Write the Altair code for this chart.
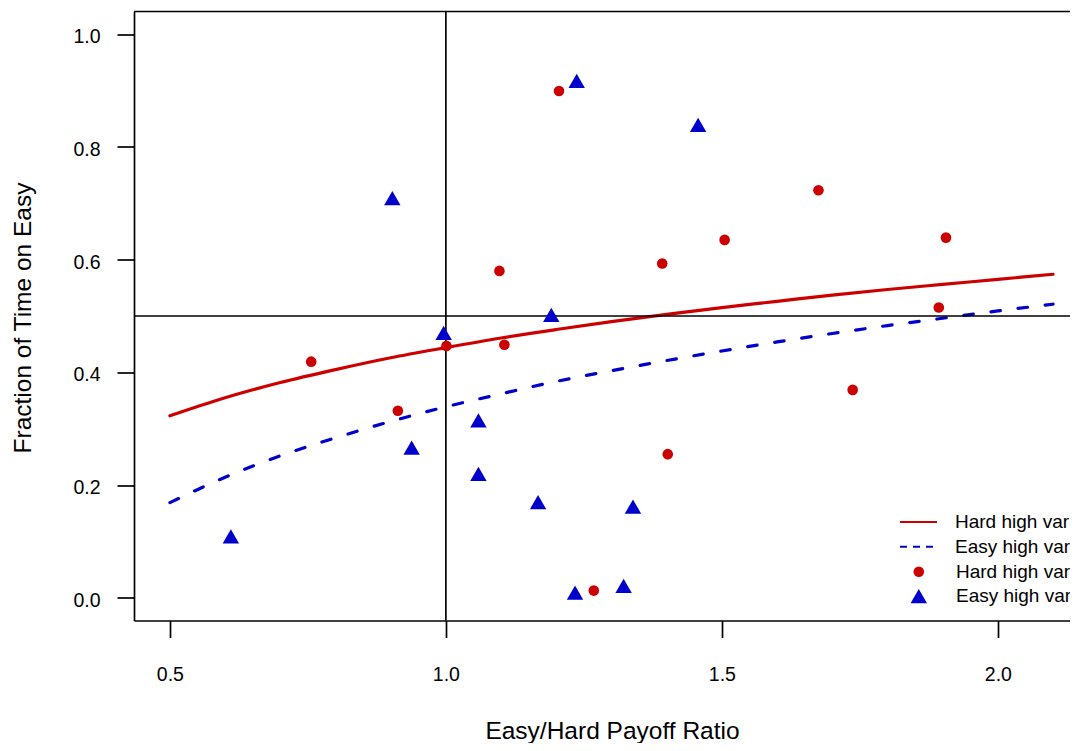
import altair as alt
import pandas as pd

RED = "#CD0000"
BLUE = "#0000CD"
FONT = "Liberation Sans"

# ---- data ----
hard_x = [0.756, 0.913, 1.001, 1.097, 1.106, 1.205, 1.268, 1.392, 1.402, 1.505, 1.675, 1.737, 1.893, 1.906]
hard_y = [0.419, 0.332, 0.447, 0.580, 0.449, 0.899, 0.013, 0.593, 0.255, 0.635, 0.723, 0.369, 0.515, 0.639]

easy_x = [0.6105, 0.903, 0.938, 0.996, 1.059, 1.059, 1.167, 1.191, 1.237, 1.234, 1.322, 1.339, 1.457]
easy_y = [0.109, 0.709, 0.2665, 0.470, 0.315, 0.220, 0.170, 0.502, 0.917, 0.0095, 0.0216, 0.162, 0.839]

fit_x = [0.5, 0.6, 0.7, 0.8, 0.9, 1.0, 1.1, 1.2, 1.3, 1.4, 1.5, 1.6, 1.7, 1.8, 1.9, 2.0, 2.1]
hard_fit = [0.323, 0.355, 0.382, 0.405, 0.426, 0.444, 0.461, 0.476, 0.490, 0.503, 0.515,
            0.526, 0.537, 0.547, 0.556, 0.565, 0.574]
easy_fit = [0.169, 0.214, 0.252, 0.284, 0.313, 0.339, 0.362, 0.384, 0.403, 0.421, 0.438,
            0.454, 0.469, 0.483, 0.496, 0.509, 0.521]

ref_x = [1.0]
ref_y = [0.5]

x_ticks = [0.5, 1.0, 1.5, 2.0]
y_ticks = [0.0, 0.2, 0.4, 0.6, 0.8, 1.0]

# legend labels as far as the reference shows them (cut at the window edge)
LBL_HF = "Hard high var"
LBL_EF = "Easy high var"
LBL_HD = "Hard high var"
LBL_ED = "Easy high var"

x_domain = [0.435, 2.1307]
y_domain = [-0.04, 1.04]

# ---- tables ----
hard_fit_df = pd.DataFrame({"ratio": fit_x, "frac": hard_fit, "series": [LBL_HF] * len(fit_x)})
easy_fit_df = pd.DataFrame({"ratio": fit_x, "frac": easy_fit, "series": [LBL_EF] * len(fit_x)})
points_df = pd.DataFrame({
    "ratio": hard_x + easy_x,
    "frac": hard_y + easy_y,
    "group": [LBL_HD] * len(hard_x) + [LBL_ED] * len(easy_x),
})
vline_df = pd.DataFrame({"ratio": ref_x})
hline_df = pd.DataFrame({"frac": ref_y})
top_df = pd.DataFrame({"frac": [y_domain[1]]})

x_scale = alt.Scale(domain=x_domain, nice=False, zero=False)
y_scale = alt.Scale(domain=y_domain, nice=False, zero=False)

common_axis = dict(
    grid=False, domainColor="black", domainWidth=1.7, tickColor="black", tickWidth=1.7,
    tickSize=17, labelFont=FONT, labelFontSize=19.5, labelColor="black",
    titleFont=FONT, titleFontSize=24.5, titleFontWeight="normal", titleColor="black",
    labelFlush=False, labelOverlap=False,
)
x_axis = alt.Axis(values=x_ticks, format=".1f", title="Easy/Hard Payoff Ratio",
                  labelBaseline="alphabetic", labelPadding=42.5,
                  titleX=478, titleY=117.5, titleAlign="center", titleBaseline="alphabetic",
                  **common_axis)
y_axis = alt.Axis(values=y_ticks, format=".1f", title="Fraction of Time on Easy",
                  labelBaseline="alphabetic", labelOffset=8.5, labelPadding=17,
                  titleX=-103.7, titleY=306, titleAngle=270, titleAlign="center",
                  titleBaseline="alphabetic", **common_axis)

X = alt.X("ratio:Q", scale=x_scale, axis=x_axis)
Y = alt.Y("frac:Q", scale=y_scale, axis=y_axis)

legend_common = dict(
    title=None, orient="none", labelFont=FONT, labelFontSize=19, labelColor="black",
    labelLimit=2000, rowPadding=4.5, clipHeight=20, padding=0,
)


def line_legend(y, dash):
    return alt.Legend(legendX=765, legendY=y, symbolType="stroke", symbolSize=1369,
                      symbolStrokeWidth=2, symbolDash=dash, labelOffset=17, **legend_common)


hard_line = alt.Chart(hard_fit_df).mark_line(
    strokeWidth=3.2, strokeCap="round", interpolate="monotone"
).encode(
    x=X, y=Y,
    color=alt.Color("series:N", scale=alt.Scale(domain=[LBL_HF], range=[RED]),
                    legend=line_legend(500.5, [1, 0])),
)
easy_line = alt.Chart(easy_fit_df).mark_line(
    strokeWidth=3.2, strokeCap="round", strokeDash=[9.5, 17.8], interpolate="monotone"
).encode(
    x=X, y=Y,
    color=alt.Color("series:N", scale=alt.Scale(domain=[LBL_EF], range=[BLUE]),
                    legend=line_legend(525.2, [7, 6])),
)

vline = alt.Chart(vline_df).mark_rule(color="black", strokeWidth=1.7).encode(x=X)
hline = alt.Chart(hline_df).mark_rule(color="black", strokeWidth=1.7).encode(y=Y)
top = alt.Chart(top_df).mark_rule(color="black", strokeWidth=1.7).encode(y=Y)

pts_legend = alt.Legend(legendX=775.3, legendY=550.2, symbolStrokeWidth=0, symbolOpacity=1,
                        symbolSize=150, labelOffset=27.7, **legend_common)

points = alt.Chart(points_df).mark_point(filled=True, opacity=1, strokeWidth=0).encode(
    x=X, y=Y,
    color=alt.Color("group:N", scale=alt.Scale(domain=[LBL_HD, LBL_ED], range=[RED, BLUE]),
                    legend=pts_legend),
    shape=alt.Shape("group:N", scale=alt.Scale(domain=[LBL_HD, LBL_ED], range=["circle", "triangle-up"]),
                    legend=pts_legend),
    size=alt.Size("group:N", scale=alt.Scale(type="point", domain=[LBL_HD, LBL_ED], range=[113, 270], padding=0),
                  legend=None),
)

chart = alt.layer(hard_line, easy_line, vline, hline, top, points).resolve_scale(
    color="independent", shape="independent", size="independent"
).resolve_legend(
    color="independent", shape="independent", size="independent"
).properties(
    width=936, height=609,
    autosize=alt.AutoSizeParams(type="none"),
    padding={"left": 126, "top": 3.5, "right": 0, "bottom": 122.5},
    background="white",
).configure_view(stroke=None)

chart.save("out.html", embed_options={"renderer": "svg", "actions": False})
